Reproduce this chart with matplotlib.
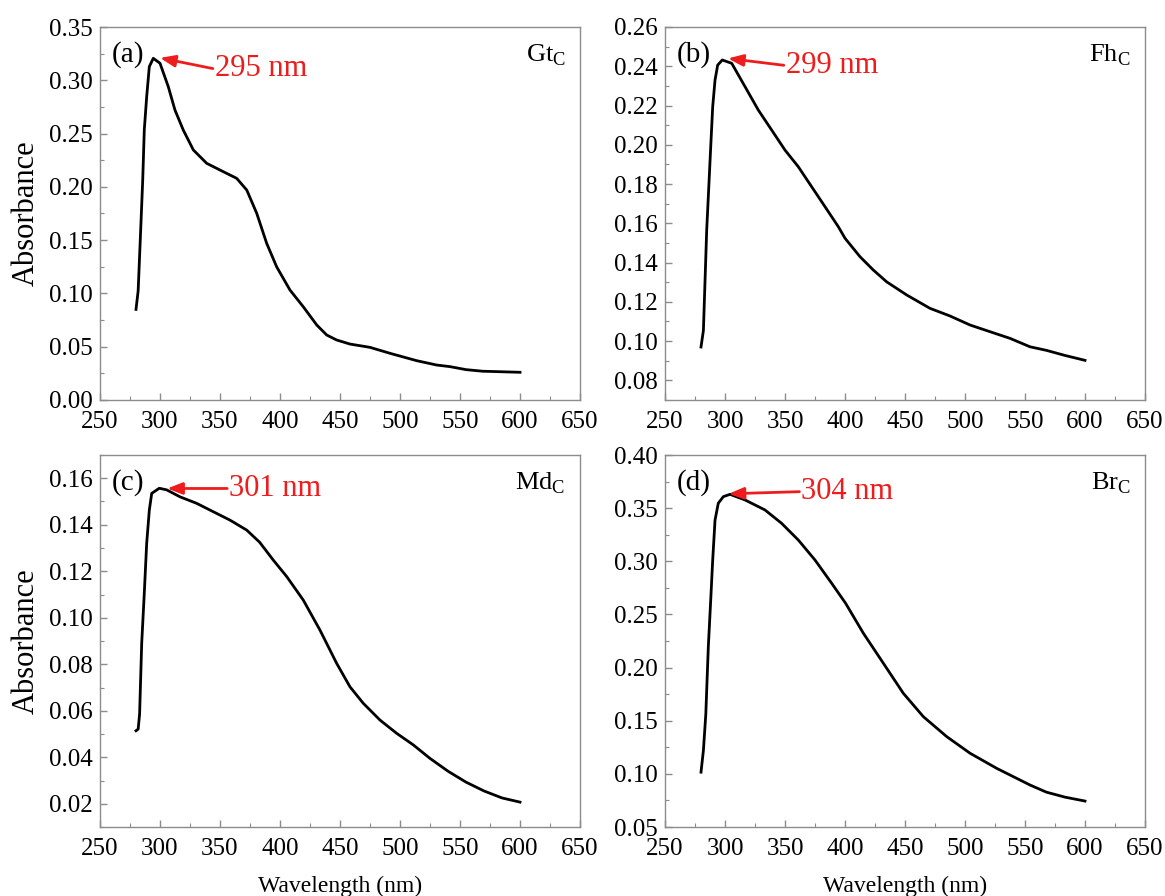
"""
UV-vis absorbance spectra of four Fe (oxyhydr)oxide samples, 2x2 panel figure.
Values read off the reference picture.
"""

import matplotlib

matplotlib.use("Agg")
import matplotlib.pyplot as plt
from matplotlib.ticker import MultipleLocator, FormatStrFormatter

plt.rcParams["font.family"] = ["Liberation Serif", "DejaVu Serif"]
plt.rcParams["mathtext.fontset"] = "custom"
plt.rcParams["mathtext.rm"] = "Liberation Serif"

# --- data ----------------------------------------------------------------
gt_wl = [280, 281.8, 283.9, 285.6, 286.9, 288.9, 291.1, 294.4, 300, 306.9,
         312.5, 319.4, 327.8, 338.9, 352.8, 363.9, 372.3, 380.6, 388.9,
         397.2, 408.3, 419.4, 430.6, 438.9, 447.2, 458.3, 475, 491.7, 513.9,
         530.6, 541.7, 555, 568.8, 581.6, 600]
gt_abs = [0.085, 0.1025, 0.1595, 0.2064, 0.2533, 0.2846, 0.3128, 0.3206,
          0.316, 0.294, 0.272, 0.2533, 0.2346, 0.2221, 0.2142, 0.208, 0.197,
          0.1752, 0.147, 0.125, 0.1032, 0.0875, 0.0704, 0.061, 0.0563,
          0.0525, 0.0494, 0.0438, 0.0369, 0.0328, 0.0313, 0.0285, 0.027,
          0.0266, 0.026]

fh_wl = [280, 282, 284.75, 286.1, 288.1, 289.75, 291.7, 293.9, 297.75,
         305.6, 316.7, 327.75, 338.9, 350, 361.1, 372.25, 383.3, 394.4, 400,
         412.5, 423.6, 434.7, 451.4, 470.8, 487.5, 504.2, 520.8, 537.5,
         554.2, 567.8, 583.3, 600]
fh_abs = [0.097, 0.1054, 0.1566, 0.1736, 0.199, 0.2194, 0.233, 0.2406,
          0.2432, 0.2415, 0.2296, 0.2177, 0.2075, 0.1973, 0.1888, 0.1786,
          0.1685, 0.1583, 0.1524, 0.143, 0.1362, 0.1302, 0.1235, 0.1167,
          0.1128, 0.1082, 0.1048, 0.1014, 0.0971, 0.0953, 0.0927, 0.0902]

md_wl = [280, 281.8, 283, 284.75, 286.9, 288.9, 291.1, 293.1, 299.4, 305.6,
         316.7, 330.6, 344.4, 358.3, 372.25, 383, 394.4, 405.6, 419.4,
         433.3, 447.2, 458.3, 469.4, 483.3, 497.2, 511.1, 525, 540, 555,
         570, 585, 600]
md_abs = [0.0514, 0.0521, 0.0586, 0.089, 0.1105, 0.132, 0.1463, 0.1535,
          0.1557, 0.155, 0.152, 0.1492, 0.1456, 0.142, 0.1377, 0.1325,
          0.1248, 0.1177, 0.1076, 0.0947, 0.0804, 0.0703, 0.0632, 0.056,
          0.0503, 0.0453, 0.0395, 0.034, 0.0293, 0.0255, 0.0225, 0.0207]

br_wl = [280, 282, 284, 286.1, 288.1, 289.75, 291.7, 294.4, 298.6, 304.2,
         316.7, 333.3, 347.2, 361.1, 375, 388.9, 400.5, 415.3, 432, 448.6,
         465.3, 484.8, 504.2, 526.4, 554.2, 567.8, 583.3, 600]
br_abs = [0.1016, 0.122, 0.156, 0.2196, 0.2636, 0.3012, 0.3388, 0.3546,
          0.3608, 0.363, 0.3577, 0.3483, 0.3357, 0.32, 0.3012, 0.2793,
          0.2605, 0.2323, 0.204, 0.1758, 0.1538, 0.135, 0.1194, 0.1052,
          0.0895, 0.0828, 0.0781, 0.0744]

panel_tags = ["(a)", "(b)", "(c)", "(d)"]
sample_names = ["Gt$_\\mathrm{C}$", "Fh$_\\mathrm{C}$", "Md$_\\mathrm{C}$",
                "Br$_\\mathrm{C}$"]
peak_labels = ["295 nm", "299 nm", "301 nm", "304 nm"]
arrow_heads = [(300, 0.321), (302.5, 0.244), (306, 0.1556), (303, 0.3635)]
arrow_tails = [(344, 0.311), (349, 0.2405), (356, 0.1556), (362, 0.3655)]

y_limits = [(0.0, 0.35), (0.07, 0.26), (0.01, 0.17), (0.05, 0.40)]
y_major = [0.05, 0.02, 0.02, 0.05]
y_ticks_first = [0.0, 0.08, 0.02, 0.05]

# axes boxes in pixels: left, top, right, bottom
W, H = 1165, 896
boxes = [(100, 27, 580, 400), (665, 27, 1145, 400),
         (100, 455, 580, 827), (665, 455, 1145, 827)]

fig = plt.figure(figsize=(W / 100, H / 100), dpi=100)

series = [(gt_wl, gt_abs), (fh_wl, fh_abs), (md_wl, md_abs), (br_wl, br_abs)]
spine_gray = "#8c8c8c"
red = "#ee1c1c"

for i, (wl, ab) in enumerate(series):
    l, t, r, b = boxes[i]
    ax = fig.add_axes([l / W, 1 - b / H, (r - l) / W, (b - t) / H])
    ax.plot(wl, ab, color="black", lw=2.0, solid_joinstyle="round")

    ax.set_xlim(250, 650)
    ax.set_ylim(*y_limits[i])
    ax.xaxis.set_major_locator(MultipleLocator(50))
    ax.xaxis.set_minor_locator(MultipleLocator(25))
    ax.yaxis.set_minor_locator(MultipleLocator(y_major[i] / 2))
    ax.yaxis.set_major_formatter(FormatStrFormatter("%.2f"))
    lo, hi = y_limits[i]
    ticks = [round(y_ticks_first[i] + k * y_major[i], 3) for k in range(20)]
    ax.set_yticks([v for v in ticks if v <= hi + 1e-9])

    for sp in ax.spines.values():
        sp.set_color(spine_gray)
        sp.set_linewidth(1.0)
    ax.tick_params(which="both", direction="in", color=spine_gray,
                   labelsize=18)
    ax.tick_params(axis="x", pad=8)
    ax.tick_params(axis="y", pad=5)
    ax.tick_params(which="major", length=5, width=1)
    ax.tick_params(which="minor", length=3, width=0.8)

    ax.text(0.025, 0.925, panel_tags[i], transform=ax.transAxes,
            fontsize=21, ha="left", va="center")
    ax.text(0.97, 0.925, sample_names[i], transform=ax.transAxes,
            fontsize=19, ha="right", va="center")

    ax.annotate("", xy=arrow_heads[i], xytext=arrow_tails[i],
                arrowprops=dict(arrowstyle="-|>,head_length=0.9,head_width=0.35",
                                color=red, lw=2.0, shrinkA=0, shrinkB=0))
    ax.text(arrow_tails[i][0] + 1.5, arrow_tails[i][1], peak_labels[i],
            color=red, fontsize=22, ha="left", va="center")

    if i % 2 == 0:
        ax.set_ylabel("Absorbance", fontsize=22, labelpad=6)
    if i >= 2:
        ax.set_xlabel("Wavelength (nm)", fontsize=17, labelpad=11)

fig.savefig("out.png", dpi=100)
